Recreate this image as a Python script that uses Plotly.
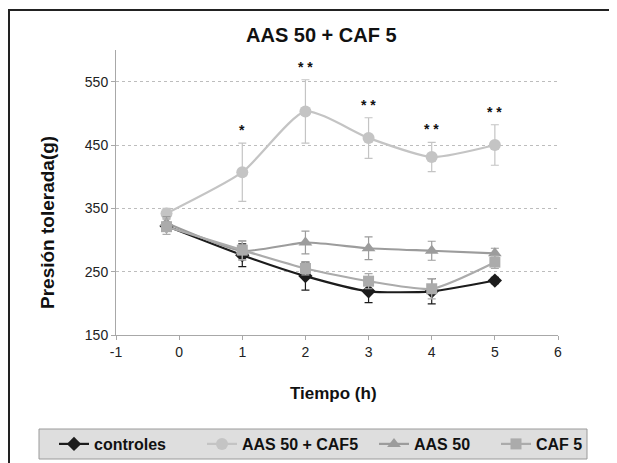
import plotly.graph_objects as go

# ---- data ----
tiempo = [-0.2, 1, 2, 3, 4, 5]
controles = [322, 276, 243, 219, 219, 236]
controles_err = [6, 18, 22, 18, 20, 5]
aas_caf = [342, 407, 503, 461, 431, 450]
aas_caf_err = [8, 46, 50, 32, 23, 32]
aas50 = [327, 283, 296, 287, 283, 279]
aas50_err = [10, 15, 18, 18, 15, 8]
caf5 = [321, 284, 255, 235, 223, 265]
caf5_err = [12, 15, 10, 12, 16, 10]
signif = ["", "*", "* *", "* *", "* *", "* *"]
y_ticks = [150, 250, 350, 450, 550]
x_ticks = [-1, 0, 1, 2, 3, 4, 5, 6]

FONT = "Liberation Sans, Arial, sans-serif"

# page geometry: the figure sits 8px in from the page corner
OFF = 8
W, H = 617, 463
L, T = 116 - OFF, 50 - OFF
R = W - (558 - OFF)
B = H - (335 - OFF)
PW, PH = W - L - R, H - T - B


def px(x):  # page pixel -> paper
    return (x - OFF - L) / PW


def py(y):
    return (H - B - (y - OFF)) / PH


def cx(x):  # page pixel -> container
    return (x - OFF) / W


def cy(y):
    return 1 - (y - OFF) / H


fig = go.Figure()

series = [
    ("controles", controles, controles_err, "#1c1c1c", "diamond", 11, 54),
    ("AAS 50 + CAF5", aas_caf, aas_caf_err, "#c4c4c4", "circle", 12, 202),
    ("AAS 50", aas50, aas50_err, "#9c9c9c", "triangle-up", 12, 374),
    ("CAF 5", caf5, caf5_err, "#ababab", "square", 11, 496),
]
legend_layout = {}
for i, (name, vals, err, col, sym, sz, lx) in enumerate(series):
    lname = "legend" if i == 0 else f"legend{i + 1}"
    fig.add_trace(go.Scatter(
        x=tiempo, y=vals, name=name, mode="lines+markers", legend=lname,
        line=dict(color=col, width=2.2, shape="spline", smoothing=0.6),
        marker=dict(symbol=sym, size=sz, color=col),
        error_y=dict(type="data", array=err, visible=True, color=col,
                     thickness=1.2, width=4),
    ))
    legend_layout[lname] = dict(
        xref="container", yref="container", x=cx(lx), y=cy(444),
        xanchor="left", yanchor="middle", orientation="h",
        bgcolor="rgba(0,0,0,0)", borderwidth=0,
        font=dict(family=FONT, size=16, color="#111", weight="bold"),
        itemwidth=30,
    )

# significance stars above AAS 50 + CAF5 error bars
for xv, yv, ev, s in zip(tiempo, aas_caf, aas_caf_err, signif):
    if s:
        fig.add_annotation(x=xv, y=yv + ev, text="<b>" + s + "</b>", showarrow=False,
                           yshift=13, xanchor="center", yanchor="middle",
                           font=dict(family=FONT, size=14, color="#111"))

shapes = [
    # outer frame
    dict(type="rect", xref="paper", yref="paper",
         x0=px(9), x1=px(660), y0=py(10), y1=py(520),
         line=dict(color="#222", width=2), fillcolor="rgba(0,0,0,0)", layer="below"),
    # legend box
    dict(type="rect", xref="paper", yref="paper",
         x0=px(39), x1=px(587), y0=py(459), y1=py(429),
         line=dict(color="#9a9a9a", width=1), fillcolor="#dedede", layer="below"),
]

fig.update_layout(
    width=W, height=H,
    margin=dict(l=L, r=R, t=T, b=B, autoexpand=False),
    paper_bgcolor="white", plot_bgcolor="white",
    font=dict(family=FONT, color="#222"),
    showlegend=True,
    shapes=shapes,
    annotations=list(fig.layout.annotations) + [
        dict(text="<b>AAS 50 + CAF 5</b>", xref="paper", yref="paper",
             x=px(321), y=py(35), showarrow=False, xanchor="center", yanchor="middle",
             font=dict(family=FONT, size=20, color="#111")),
        dict(text="<b>Presión tolerada(g)</b>", xref="paper", yref="paper",
             x=px(47), y=py(223), showarrow=False, textangle=-90,
             xanchor="center", yanchor="middle",
             font=dict(family=FONT, size=19, color="#111")),
        dict(text="<b>Tiempo (h)</b>", xref="paper", yref="paper",
             x=px(333), y=py(393), showarrow=False, xanchor="center", yanchor="middle",
             font=dict(family=FONT, size=17, color="#111")),
    ],
    **legend_layout,
)

fig.update_xaxes(range=[-1, 6], tickvals=x_ticks, ticktext=[str(v) for v in x_ticks],
                 showgrid=False, zeroline=False, showline=True, linecolor="#a8a8a8",
                 linewidth=1, ticks="outside", ticklen=4, tickcolor="#a8a8a8",
                 tickfont=dict(family=FONT, size=14, color="#222"))
fig.update_yaxes(range=[150, 600], tickvals=y_ticks, showgrid=True,
                 gridcolor="#bdbdbd", griddash="dot", gridwidth=1,
                 zeroline=False, showline=True, linecolor="#a8a8a8", linewidth=1,
                 ticks="outside", ticklen=4, tickcolor="#a8a8a8",
                 tickfont=dict(family=FONT, size=14, color="#222"))

fig.write_html("out.html")
